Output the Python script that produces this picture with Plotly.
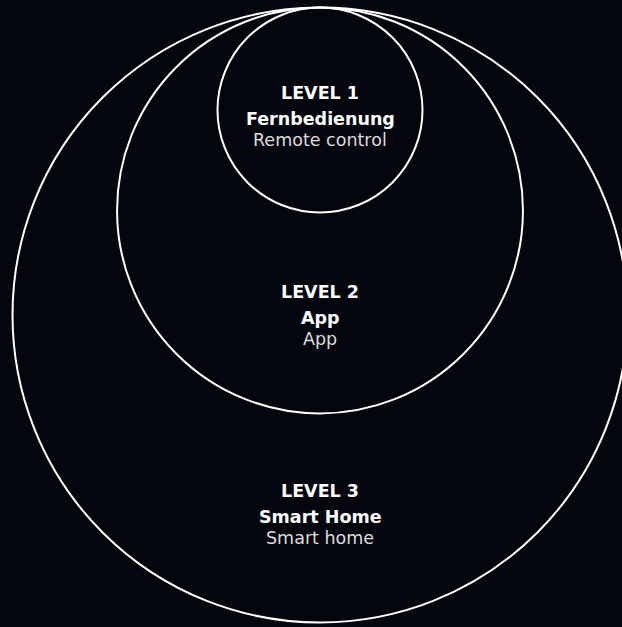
import plotly.graph_objects as go

# ---- data ----
levels = ["LEVEL 1", "LEVEL 2", "LEVEL 3"]
names_de = ["Fernbedienung", "App", "Smart Home"]
names_en = ["Remote control", "App", "Smart home"]
radii = [1.0, 1.98, 3.0]          # relative circle radii (level 1 = 1)

# ---- style / layout ----
W, H = 622, 627
BG = "#04060e"
UNIT = 102.5        # pixels per radius unit
CX_PX = 320         # horizontal centre of circles in pixels
TOP_PX = 7.5        # common tangent point (top) in pixels
FONT = "DejaVu Sans"
nudge_px = [9, 5, -1]   # small vertical nudges of label blocks (px, + = down)

x_range = [-CX_PX / UNIT, (W - CX_PX) / UNIT]
y_range = [-(H - TOP_PX) / UNIT, TOP_PX / UNIT]

fig = go.Figure()
shapes = []
for r in radii:
    shapes.append(dict(
        type="circle", xref="x", yref="y",
        x0=-r, x1=r, y0=-2 * r, y1=0,
        line=dict(color="#ffffff", width=2),
        fillcolor="rgba(0,0,0,0)", layer="above",
    ))

annotations = []
prev = 0.0
for i, r in enumerate(radii):
    ymid = -(prev + r)
    prev = r
    base = -nudge_px[i]
    lines = [
        (levels[i], 26, "#ffffff", "bold"),
        (names_de[i], 0, "#ffffff", "bold"),
        (names_en[i], -21, "#dcdcdc", "normal"),
    ]
    for txt, dy, col, wt in lines:
        annotations.append(dict(
            x=0, y=ymid, xref="x", yref="y", text=txt, showarrow=False,
            xanchor="center", yanchor="middle", yshift=dy + base,
            font=dict(family=FONT, size=17.5, color=col, weight=wt),
        ))

fig.add_trace(go.Scatter(x=[0], y=[0], mode="markers",
                         marker=dict(opacity=0), hoverinfo="skip", showlegend=False))

fig.update_layout(
    width=W, height=H,
    margin=dict(l=0, r=0, t=0, b=0),
    paper_bgcolor=BG, plot_bgcolor=BG,
    shapes=shapes, annotations=annotations,
    xaxis=dict(range=x_range, visible=False, fixedrange=True),
    yaxis=dict(range=y_range, visible=False, fixedrange=True),
    showlegend=False,
)

fig.write_html(
    "out.html",
    config={"displayModeBar": False},
    post_script=(
        "document.body.style.margin='0';"
        "document.body.style.padding='0';"
        "document.body.style.overflow='hidden';"
        "document.body.style.background='" + BG + "';"
    ),
)
